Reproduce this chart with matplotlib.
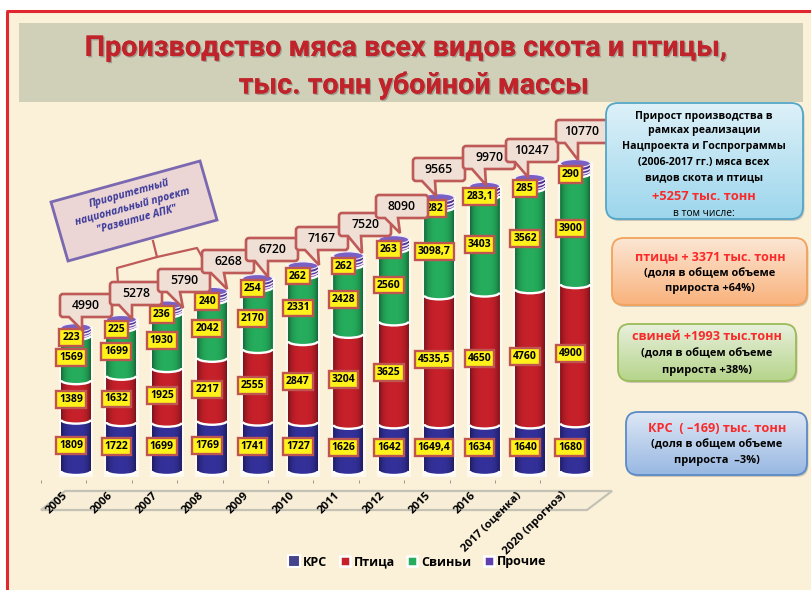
import numpy as np
import matplotlib
matplotlib.use("Agg")
import matplotlib.pyplot as plt
from matplotlib.patches import Rectangle, Ellipse, Arc, FancyBboxPatch, PathPatch, Polygon
from matplotlib.path import Path
from matplotlib.lines import Line2D
import matplotlib.patheffects as pe

plt.rcParams['font.family'] = ['Open Sans', 'DejaVu Sans']

# ---------- data ----------
categories = ['2005', '2006', '2007', '2008', '2009', '2010', '2011', '2012',
              '2015', '2016', '2017 (оценка)', '2020 (прогноз)']
krs = [1809, 1722, 1699, 1769, 1741, 1727, 1626, 1642, 1649.4, 1634, 1640, 1680]
poultry = [1389, 1632, 1925, 2217, 2555, 2847, 3204, 3625, 4535.5, 4650, 4760, 4900]
pigs = [1569, 1699, 1930, 2042, 2170, 2331, 2428, 2560, 3098.7, 3403, 3562, 3900]
other = [223, 225, 236, 240, 254, 262, 262, 263, 282, 283.1, 285, 290]
totals = [4990, 5278, 5790, 6268, 6720, 7167, 7520, 8090, 9565, 9970, 10247, 10770]
series_names = ['КРС', 'Птица', 'Свиньи', 'Прочие']

# ---------- layout (pixels of the 811x590 picture) ----------
W, H = 811, 590
BAR0, STEP, BASE, SCALE = 76.0, 45.4, 471.0, 0.0284
AX_BOTTOM, AX_TOP = 480.0, 100.0
BAR_W = 0.66
DEPTH_PX = 4.0
COLORS = ['#33309A', '#C6202A', '#25AC5C', '#5F3FB0']
callout_boxes = [(60, 294), (110, 282), (158, 269), (202, 250), (246, 238), (296, 227),
                 (339, 213), (376, 195), (413, 158), (463, 146), (506, 139), (556, 120)]
callout_tips = [(82, 330), (132, 319), (183, 308), (227, 289), (268, 277), (319, 265),
                (362, 253), (400, 233), (436, 196), (486, 185), (528, 177), (578, 160)]

fig = plt.figure(figsize=(W / 100, H / 100), dpi=100, facecolor='white')


def px_axes(z):
    a = fig.add_axes([0, 0, 1, 1], zorder=z)
    a.set_xlim(0, W)
    a.set_ylim(H, 0)
    a.axis('off')
    a.patch.set_alpha(0)
    return a


bg = px_axes(0)
bg.add_patch(Rectangle((6, 10), W, H, fc='#FBF0D8', ec='none'))
bg.plot([7, 7], [H, 11], color='#E0262E', lw=2.2, solid_capstyle='butt')
bg.plot([6, W], [11, 11], color='#E0262E', lw=2.2, solid_capstyle='butt')
bg.add_patch(Rectangle((19, 23), 784, 79, fc='#D0CFB8', ec='none'))
shadow = [pe.withSimplePatchShadow(offset=(1.0, -1.0), shadow_rgbFace='#555555', alpha=0.4), pe.Normal()]
bg.text(406, 48, 'Производство мяса всех видов скота и птицы,', ha='center', va='center', family='Roboto',
        fontsize=20.7, fontweight='bold', color='#C1232B', path_effects=shadow)
bg.text(414, 85, 'тыс. тонн убойной массы', ha='center', va='center', family='Roboto',
        fontsize=20.7, fontweight='bold', color='#C1232B', path_effects=shadow)
# floor of the chart
bg.add_patch(Polygon([(41, 510), (65, 491), (612, 491), (587, 510)], closed=True,
                     fc='#F8EED8', ec='#C4C2B4', lw=1.6))

# ---------- bars ----------
ax = fig.add_axes([(BAR0 - STEP) / W, 1 - AX_BOTTOM / H, STEP * 12.5 / W, (AX_BOTTOM - AX_TOP) / H], zorder=1)
ax.patch.set_alpha(0)
xlim = (-1.0, 11.5)
ylim = ((BASE - AX_BOTTOM) / SCALE, (BASE - AX_TOP) / SCALE)
x = np.arange(len(categories))
depth = DEPTH_PX / SCALE
series = [krs, poultry, pigs, other]
stack_top = np.sum(series, axis=0)

for xi, top in zip(x, stack_top):
    ax.add_patch(Rectangle((xi - BAR_W / 2 - 0.05, -depth - 2 / SCALE), BAR_W + 0.1, top + depth + 5 / SCALE,
                           fc='white', ec='none', alpha=0.65, zorder=1))

bottom = np.zeros(len(x))
for s, (vals, col, name) in enumerate(zip(series, COLORS, series_names)):
    z = 2 + s
    ax.bar(x, vals, BAR_W, bottom=bottom, color=col, label=name, zorder=z)
    for xi, b in zip(x, bottom):
        ax.add_patch(Ellipse((xi, b), BAR_W, 2 * depth, fc=col, ec='none', zorder=z))
        ax.add_patch(Arc((xi, b), BAR_W, 2 * depth, theta1=180, theta2=360, ec='white', lw=1.7, zorder=7))
    bottom = bottom + np.array(vals)

# cylinder shading, top of the purple part and its swirl
u = np.linspace(-1, 1, 48)
shade = np.zeros((1, len(u), 4))
shade[0, :, 3] = 0.38 * np.abs(u) ** 3.5
t = np.linspace(0, np.pi, 30)
for xi, top in zip(x, stack_top):
    left = xi - BAR_W / 2
    right = xi + BAR_W / 2
    bx = xi - np.cos(t) * BAR_W / 2
    by = -np.sin(t) * depth
    outline = Path(np.vstack([np.c_[bx, by], [[right, top], [left, top]], [[left, by[0]]]]))
    im = ax.imshow(shade, extent=(left, right, -depth, top), aspect='auto', zorder=6, interpolation='bilinear')
    im.set_clip_path(outline, ax.transData)
    ax.add_patch(Ellipse((xi, top + depth * 0.4), BAR_W, 2 * depth, fc='#7A60C4', ec='#F4F0FA', lw=0.8, zorder=6.5))
    for f in (0.25, 0.65):
        ax.add_patch(Arc((xi, top - (1 - f) * other[xi] + depth * 0.2), BAR_W, 2 * depth, theta1=190, theta2=350,
                         ec='#EFE8F8', lw=1.1, zorder=6.6))

# value labels
bottom = np.zeros(len(x))
for s, vals in enumerate(series):
    for xi, b, v in zip(x, bottom, vals):
        y = b + v / 2
        ax.annotate(f'{v:g}'.replace('.', ','), (xi, y), xytext=(-3.6, -3.5 if s == 3 else 0), textcoords='offset points',
                    ha='center', va='center', fontsize=7.5, fontweight='bold', color='black', zorder=10,
                    bbox=dict(boxstyle='square,pad=0.28', fc='#FFF21A', ec='#BE5550', lw=1.7))
    bottom = bottom + np.array(vals)

# axis furniture
for sp in ax.spines.values():
    sp.set_visible(False)
ax.set_yticks([])
ax.set_xticks(x - 0.31)
ax.set_xticklabels(categories, rotation=45, ha='right', rotation_mode='anchor', fontsize=8.2, fontweight='bold')
ax.tick_params(axis='x', which='major', length=0, pad=7)
ax.set_xticks(x - 0.77, minor=True)
ax.tick_params(axis='x', which='minor', length=2.5, width=0.6, color='#888888', top=False, bottom=True)
ax.set_xlim(*xlim)
ax.set_ylim(*ylim)

handles = [Line2D([], [], ls='none', marker='s', ms=ms, mfc=c, mec='white', mew=mw)
           for c, ms, mw in zip(['#46448C', '#C6202A', '#25AC5C', '#5F3FB0'], [8, 6.5, 6.5, 6.5], [1.5, 1.8, 1.8, 1.8])]
ax.legend(handles, series_names, loc='center', bbox_to_anchor=(418 / W, 1 - 562 / H), bbox_transform=fig.transFigure,
          ncol=4, frameon=False, prop=dict(weight='bold', size=9), handlelength=0.8, handletextpad=0.3, columnspacing=1.0)

# ---------- overlay ----------
ov = px_axes(2)
EDGE = '#BE5A58'
ov.plot([153, 157, 117, 118], [241, 257, 268, 283], color=EDGE, lw=1.6, zorder=1)
ov.plot([157, 197, 202], [257, 248, 257], color=EDGE, lw=1.6, zorder=1)
ov.add_patch(Polygon([(51, 202), (200, 161), (217, 220), (68, 261)], closed=True, fc='#EBD5D5', ec='#7A68B0', lw=2, zorder=2))
ov.text(133, 207, 'Приоритетный\nнациональный проект\n"Развитие АПК"', rotation=15.4, rotation_mode='anchor',
        ha='center', va='center', ma='center', fontsize=7.4, fontweight='bold', style='italic', color='#3B3A9A',
        linespacing=1.3, zorder=3)


def callout(x0, y0, tip, w=52, h=23, r=3):
    x1, y1 = x0 + w, y0 + h
    verts = [(x0 + r, y0), (x1 - r, y0), (x1, y0), (x1, y0 + r), (x1, y1 - r), (x1, y1), (x1 - r, y1),
             (x0 + 22, y1), tip, (x0 + 9, y1), (x0 + r, y1), (x0, y1), (x0, y1 - r), (x0, y0 + r), (x0, y0),
             (x0 + r, y0), (x0 + r, y0)]
    codes = [Path.MOVETO, Path.LINETO, Path.CURVE3, Path.CURVE3, Path.LINETO, Path.CURVE3, Path.CURVE3,
             Path.LINETO, Path.LINETO, Path.LINETO, Path.LINETO, Path.CURVE3, Path.CURVE3, Path.LINETO,
             Path.CURVE3, Path.CURVE3, Path.CLOSEPOLY]
    return Path(verts, codes)


for k, (box, tip, tot) in enumerate(zip(callout_boxes, callout_tips, totals)):
    ov.add_patch(PathPatch(callout(box[0], box[1], tip), fc='#F0DFD5', ec=EDGE, lw=1.9, zorder=4 + k * 0.1))
    ov.text(box[0] + 26, box[1] + 11.5, str(tot), ha='center', va='center', fontsize=8.8, fontweight='semibold',
            color='black', zorder=4.05 + k * 0.1)


def info_box(x0, y0, x1, y1, c_top, c_bot, edge):
    r = 12
    ov.add_patch(FancyBboxPatch((x0 + 1.5, y0 + 2), x1 - x0, y1 - y0, boxstyle=f'round,pad=0,rounding_size={r}',
                                fc='#777777', ec='none', alpha=0.35, zorder=5))
    patch = FancyBboxPatch((x0, y0), x1 - x0, y1 - y0, boxstyle=f'round,pad=0,rounding_size={r}',
                           fc='none', ec=edge, lw=1.3, zorder=5.2)
    ov.add_patch(patch)
    a, b = np.array(matplotlib.colors.to_rgb(c_top)), np.array(matplotlib.colors.to_rgb(c_bot))
    grad = np.linspace(a, b, 64)[:, None, :]
    im = ov.imshow(grad, extent=(x0, x1, y1, y0), aspect='auto', zorder=5.1, interpolation='bilinear')
    im.set_clip_path(patch)


info_box(606, 103, 803, 219, '#DDF1F9', '#9DD6EC', '#54A6C8')
info_box(612, 238, 807, 305, '#FCE6D4', '#F9B27C', '#F2A25C')
info_box(618, 324, 796, 381, '#E8F0DC', '#B5D48A', '#9ABB59')
info_box(626, 412, 807, 475, '#DDE7F5', '#98B8E2', '#5B8BC6')
ov.set_xlim(0, W)
ov.set_ylim(H, 0)

RED = '#FA2A2A'


def line(xc, y, s, color='black', size=7.8, weight='bold'):
    ov.text(xc, y, s, ha='center', va='center', fontsize=size, fontweight=weight, color=color, zorder=6)


for y, s in zip([116, 131, 147, 163, 178], ['Прирост производства в', 'рамках реализации', 'Нацпроекта и Госпрограммы',
                                            '(2006-2017 гг.) мяса всех', 'видов скота и птицы']):
    line(704, y, s, size=7.6)
line(704, 196, '+5257 тыс. тонн', RED, 9.3)
line(704, 213, 'в том числе:', size=7.4, weight='normal')
line(710, 257, 'птицы + 3371 тыс. тонн', RED, 9.0)
line(710, 274, '(доля в общем объеме', size=7.9)
line(710, 289, 'прироста +64%)', size=7.9)
line(707, 337, 'свиней +1993 тыс.тонн', RED, 9.1)
line(707, 354, '(доля в общем объеме', size=7.9)
line(707, 370, 'прироста +38%)', size=7.9)
line(717, 428, 'КРС  ( –169) тыс. тонн', RED, 9.2)
line(717, 445, '(доля в общем объеме', size=7.9)
line(717, 461, 'прироста  –3%)', size=7.9)

fig.savefig('out.png', dpi=100)
